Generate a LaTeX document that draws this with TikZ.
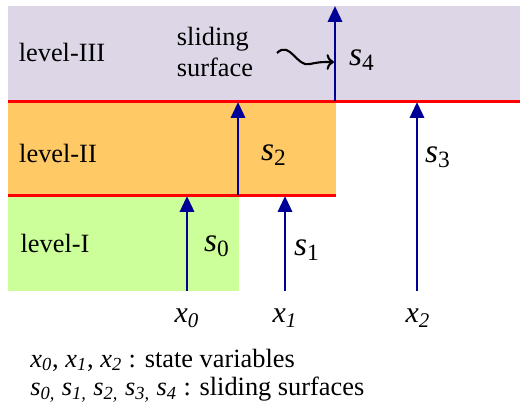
\documentclass[tikz,border=0pt]{standalone}
\usepackage{fontspec}
\setmainfont{Liberation Serif}
\usetikzlibrary{arrows.meta}
\definecolor{lvlthree}{RGB}{220,214,230}
\definecolor{lvltwo}{RGB}{255,201,102}
\definecolor{lvlone}{RGB}{204,255,153}
\definecolor{sigblue}{RGB}{0,0,150}
\newcommand{\sv}[2]{\textit{#1}\textsubscript{#2}}
\newcommand{\xv}[2]{\textit{#1}\textsubscript{\textit{#2}}}

\begin{document}
\begin{tikzpicture}[x=0.02cm, y=-0.02cm, font=\fontsize{15}{18}\selectfont,
  sig/.style={-{Triangle[width=8pt,length=9pt]}, line width=1.6pt, sigblue},
  surfline/.style={line width=1.7pt, red},
  sname/.style={font=\fontsize{19}{20}\selectfont},
  xname/.style={font=\fontsize{17}{20}\selectfont}]
  \useasboundingbox (0,0) rectangle (520,410);
  \fill[lvlthree] (8,6) rectangle (520,101);
  \fill[lvltwo] (8,101) rectangle (336,195);
  \fill[lvlone] (8,195) rectangle (239,291);
  \draw[surfline] (8,101) -- (520,101);
  \draw[surfline] (8,195) -- (336,195);

  \node (l3) at (62,52) {level-III};
  \node (l2) at (58,153) {level-II};
  \node (l1) at (55,243) {level-I};
  \node[align=left, inner sep=0pt] (slide) at (215,52) {sliding\\surface};

  \coordinate (b0) at (187,291);
  \coordinate (b1) at (285,291);
  \coordinate (b2) at (417,291);
  \coordinate (t0) at (187,196);
  \coordinate (t1) at (285,196);
  \coordinate (t2) at (417,102);
  \coordinate (b3) at (238,195);
  \coordinate (t3) at (238,102);
  \coordinate (b4) at (335,101);
  \coordinate (t4) at (335,6);
  \coordinate (hit) at (334,62);

  \draw[sig] (b0) -- (t0);
  \draw[sig] (b1) -- (t1);
  \draw[sig] (b2) -- (t2);
  \draw[sig] (b3) -- (t3);
  \draw[sig] (b4) -- (t4);
  \draw[->, line width=1.2pt] (277,53) .. controls (290,40) and (297,68) .. (310,64) .. controls (320,62) .. (hit);

  \node[sname] (s0) at (217,246) {\sv{s}{0}};
  \node[sname] (s1) at (307,250) {\sv{s}{1}};
  \node[sname] (s2) at (274,155) {\sv{s}{2}};
  \node[sname] (s3) at (438,157) {\sv{s}{3}};
  \node[sname] (s4) at (362,60) {\sv{s}{4}};
  \node[xname] (x0) at (187,318) {\xv{x}{0}};
  \node[xname] (x1) at (285,318) {\xv{x}{1}};
  \node[xname] (x2) at (418,318) {\xv{x}{2}};

  \node[anchor=west, inner sep=0pt] (key1) at (30,360) {\xv{x}{0}, \xv{x}{1}, \xv{x}{2} : state variables};
  \node[anchor=west, inner sep=0pt] (key2) at (30,390) {\xv{s}{0,} \xv{s}{1,} \xv{s}{2,} \xv{s}{3,} \xv{s}{4} : sliding surfaces};
\end{tikzpicture}
\end{document}
